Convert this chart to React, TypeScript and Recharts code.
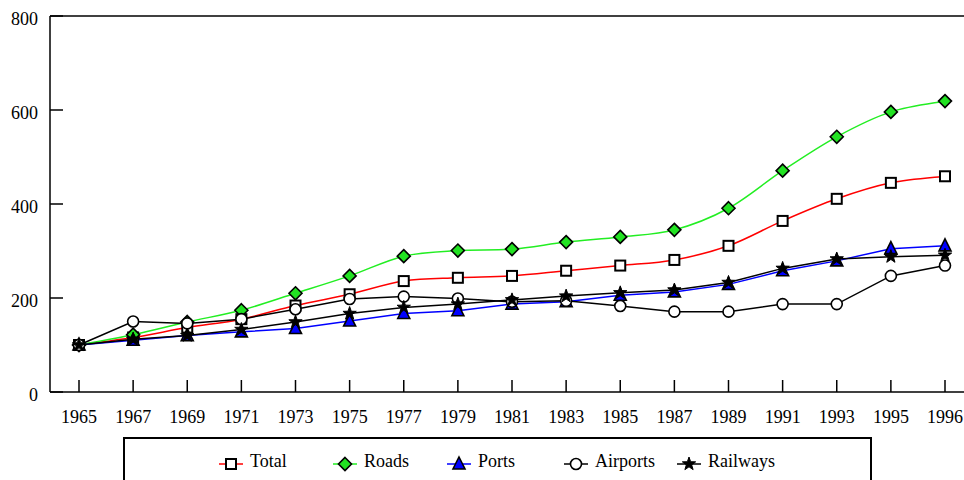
import { LineChart, Line, XAxis, YAxis, ReferenceLine } from 'recharts'

const years = ['1965', '1967', '1969', '1971', '1973', '1975', '1977', '1979', '1981', '1983', '1985', '1987', '1989', '1991', '1993', '1995', '1996']
const total = [100, 116, 137, 155, 184, 208, 236, 243, 247, 258, 269, 281, 311, 364, 411, 445, 459]
const roads = [100, 122, 149, 174, 210, 247, 289, 301, 304, 319, 330, 345, 391, 471, 543, 596, 619]
const ports = [100, 110, 120, 128, 135, 151, 167, 173, 187, 192, 206, 213, 229, 258, 279, 305, 311]
const airports = [100, 150, 146, 155, 176, 198, 203, 199, 192, 194, 183, 171, 171, 187, 187, 247, 269]
const railways = [100, 112, 120, 133, 149, 167, 180, 187, 196, 204, 211, 217, 233, 263, 283, 288, 291]
const yTicks = [0, 200, 400, 600, 800]

const data = years.map((year, i) => ({
  year,
  total: total[i],
  roads: roads[i],
  ports: ports[i],
  airports: airports[i],
  railways: railways[i],
}))

const FONT = 'Liberation Serif'

// Catmull-Rom smoothing, close to the spreadsheet "smoothed line"
function smooth(context: any) {
  let pts: [number, number][] = []
  return {
    areaStart() {},
    areaEnd() {},
    lineStart() {
      pts = []
    },
    lineEnd() {
      const n = pts.length
      if (!n) return
      context.moveTo(pts[0][0], pts[0][1])
      for (let i = 0; i < n - 1; i++) {
        const p0 = pts[Math.max(0, i - 1)]
        const p1 = pts[i]
        const p2 = pts[i + 1]
        const p3 = pts[Math.min(n - 1, i + 2)]
        context.bezierCurveTo(
          p1[0] + (p2[0] - p0[0]) / 6,
          p1[1] + (p2[1] - p0[1]) / 6,
          p2[0] - (p3[0] - p1[0]) / 6,
          p2[1] - (p3[1] - p1[1]) / 6,
          p2[0],
          p2[1]
        )
      }
    },
    point(x: number, y: number) {
      pts.push([+x, +y])
    },
  }
}

type Shape = 'square' | 'diamond' | 'triangle' | 'circle' | 'star'

function Marker({ shape, cx, cy }: { shape: Shape; cx: number; cy: number }) {
  if (shape === 'square')
    return <rect x={cx - 5} y={cy - 5} width={10} height={10} fill="#fff" stroke="#000" strokeWidth={2} />
  if (shape === 'diamond')
    return <path d={`M${cx},${cy - 6.5}L${cx + 6.5},${cy}L${cx},${cy + 6.5}L${cx - 6.5},${cy}Z`} fill="#22e222" stroke="#000" strokeWidth={1.6} />
  if (shape === 'triangle')
    return <path d={`M${cx},${cy - 7}L${cx + 6},${cy + 5}L${cx - 6},${cy + 5}Z`} fill="#0000ff" stroke="#000" strokeWidth={1.6} />
  if (shape === 'circle')
    return <circle cx={cx} cy={cy} r={5.5} fill="#fff" stroke="#000" strokeWidth={1.6} />
  const pts: string[] = []
  for (let k = 0; k < 10; k++) {
    const r = k % 2 === 0 ? 7 : 2.8
    const a = -Math.PI / 2 + (k * Math.PI) / 5
    pts.push(`${cx + r * Math.cos(a)},${cy + r * Math.sin(a)}`)
  }
  return <polygon points={pts.join(' ')} fill="#000" stroke="#000" strokeWidth={1} />
}

const series: { key: string; name: string; color: string; shape: Shape; smoothed: boolean }[] = [
  { key: 'total', name: 'Total', color: '#ff0000', shape: 'square', smoothed: true },
  { key: 'roads', name: 'Roads', color: '#22ee22', shape: 'diamond', smoothed: true },
  { key: 'ports', name: 'Ports', color: '#0000ff', shape: 'triangle', smoothed: false },
  { key: 'airports', name: 'Airports', color: '#000000', shape: 'circle', smoothed: false },
  { key: 'railways', name: 'Railways', color: '#000000', shape: 'star', smoothed: false },
]

// left edge of each legend entry inside the legend box
const legendLeft = [93, 207, 321, 438, 551]

function LegendBox() {
  return (
    <div style={{ position: 'absolute', left: 123, top: 437, width: 745, height: 60, border: '2px solid #000', fontFamily: FONT, fontSize: 18 }}>
      {series.map((s, i) => (
        <div key={s.key} style={{ position: 'absolute', left: legendLeft[i], top: 10, display: 'flex', alignItems: 'center' }}>
          <svg width={26} height={18} style={{ marginTop: 6 }}>
            <line x1={1} x2={25} y1={9} y2={9} stroke={s.color} strokeWidth={1.5} />
            <Marker shape={s.shape} cx={13} cy={9} />
          </svg>
          <span style={{ marginLeft: 6, fontFamily: FONT }}>{s.name}</span>
        </div>
      ))}
    </div>
  )
}

export default function App() {
  return (
    <div style={{ position: 'absolute', left: 0, top: 0, width: 964, height: 480, overflow: 'hidden', background: '#fff', fontFamily: FONT }}>
      <LineChart width={964} height={480} data={data} margin={{ top: 16, right: 0, left: 0, bottom: 48 }} style={{ fontFamily: FONT }}>
        <XAxis
          dataKey="year"
          height={40}
          padding={{ left: 29, right: 19 }}
          interval={0}
          tickSize={-12}
          tickMargin={30}
          tickLine={{ stroke: '#000', strokeWidth: 1.5 }}
          axisLine={{ stroke: '#000', strokeWidth: 1.5 }}
          tick={{ fill: '#000', fontSize: 18, fontFamily: FONT }}
        />
        <YAxis
          width={50}
          domain={[0, 800]}
          ticks={yTicks}
          tickSize={-13}
          tickMargin={25}
          tickLine={{ stroke: '#000', strokeWidth: 1.5 }}
          axisLine={{ stroke: '#000', strokeWidth: 1.5 }}
          tick={{ fill: '#000', fontSize: 18, fontFamily: FONT, dy: 3 }}
        />
        <ReferenceLine y={800} stroke="#000" strokeWidth={1.5} />
        {series.map((s) => (
          <Line
            key={s.key}
            dataKey={s.key}
            name={s.name}
            type={s.smoothed ? (smooth as any) : 'linear'}
            stroke={s.color}
            strokeWidth={1.5}
            isAnimationActive={false}
            dot={(p: any) => <Marker key={`${s.key}-${p.index}`} shape={s.shape} cx={p.cx} cy={p.cy} />}
            activeDot={false}
          />
        ))}
      </LineChart>
      <LegendBox />
    </div>
  )
}
